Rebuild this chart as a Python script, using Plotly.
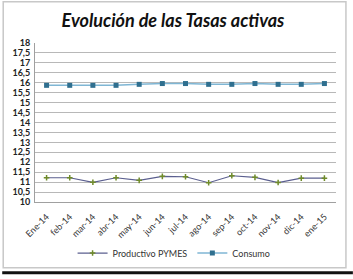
import plotly.graph_objects as go

categorias = ["Ene-14", "feb-14", "mar-14", "abr-14", "may-14", "jun-14", "jul-14",
              "ago-14", "sep-14", "oct-14", "nov-14", "dic-14", "ene-15"]
productivo_pymes = [11.22, 11.22, 10.99, 11.22, 11.09, 11.29, 11.27,
                    10.97, 11.32, 11.24, 10.98, 11.2, 11.2]
consumo = [15.87, 15.87, 15.87, 15.87, 15.92, 15.96, 15.96,
           15.92, 15.92, 15.96, 15.92, 15.92, 15.96]
y_ticks = [10, 10.5, 11, 11.5, 12, 12.5, 13, 13.5, 14, 14.5, 15, 15.5, 16, 16.5, 17, 17.5, 18]
y_ticktext = ["<b>" + ("%g" % v).replace(".", ",") + "</b>" for v in y_ticks]

W, H = 353, 279
L, R, T, B = 33, 336, 43, 205

def px(x):
    return (x - L) / (R - L)

def py(y):
    return (B - y) / (B - T)

fig = go.Figure()
fig.add_trace(go.Scatter(
    x=categorias, y=productivo_pymes, name="Productivo PYMES", mode="lines+markers",
    line=dict(color="#5b5f8f", width=1.2),
    marker=dict(symbol="cross-thin", size=4, color="#6f8b2a", line=dict(color="#6f8b2a", width=1.5)),
))
fig.add_trace(go.Scatter(
    x=categorias, y=consumo, name="Consumo", mode="lines+markers",
    line=dict(color="#7fb6d4", width=1.5),
    marker=dict(symbol="square", size=5, color="#2f6f8f"),
))

fig.update_layout(
    width=W, height=H,
    margin=dict(l=L, r=W - R, t=T, b=H - B),
    paper_bgcolor="white", plot_bgcolor="white",
    font=dict(family="Lato, Open Sans, sans-serif", color="#333333"),
    title=dict(text="<b><i>Evolución de las Tasas activas</i></b>", x=(173 - 0) / W, xref="paper" if False else "container",
               xanchor="center", y=1 - 21 / H, yanchor="middle",
               font=dict(size=18, color="#111111", family="Lato, Open Sans, sans-serif")),
    showlegend=True,
    legend=dict(orientation="h", x=px(173), xanchor="center", y=py(257), yanchor="middle",
                font=dict(size=9, color="#333333"), bgcolor="rgba(0,0,0,0)",
                itemwidth=30, tracegroupgap=0),
    xaxis=dict(type="category", range=[-0.5, 12.5], showgrid=False, showline=True,
               linecolor="#a0a0a0", linewidth=1, tickangle=-45, ticks="",
               ticklabelstandoff=5,
               tickfont=dict(size=9, color="#333333"), fixedrange=True),
    yaxis=dict(range=[10, 18], tickvals=y_ticks, ticktext=y_ticktext, showgrid=True,
               gridcolor="#b8b8b8", gridwidth=1, showline=True, linecolor="#a0a0a0",
               zeroline=False, ticks="", ticklabelstandoff=2,
               tickfont=dict(size=9, color="#222222", family="Lato, sans-serif"),
               fixedrange=True),
)

# outer frame
fig.add_shape(type="rect", xref="paper", yref="paper",
              x0=px(1), x1=px(346), y0=py(272), y1=py(1),
              line=dict(color="#c8c8c8", width=1.5), layer="below")
fig.add_shape(type="line", xref="paper", yref="paper",
              x0=px(0), x1=px(353), y0=py(277), y1=py(277),
              line=dict(color="#111111", width=3))

fig.write_html("out.html")
